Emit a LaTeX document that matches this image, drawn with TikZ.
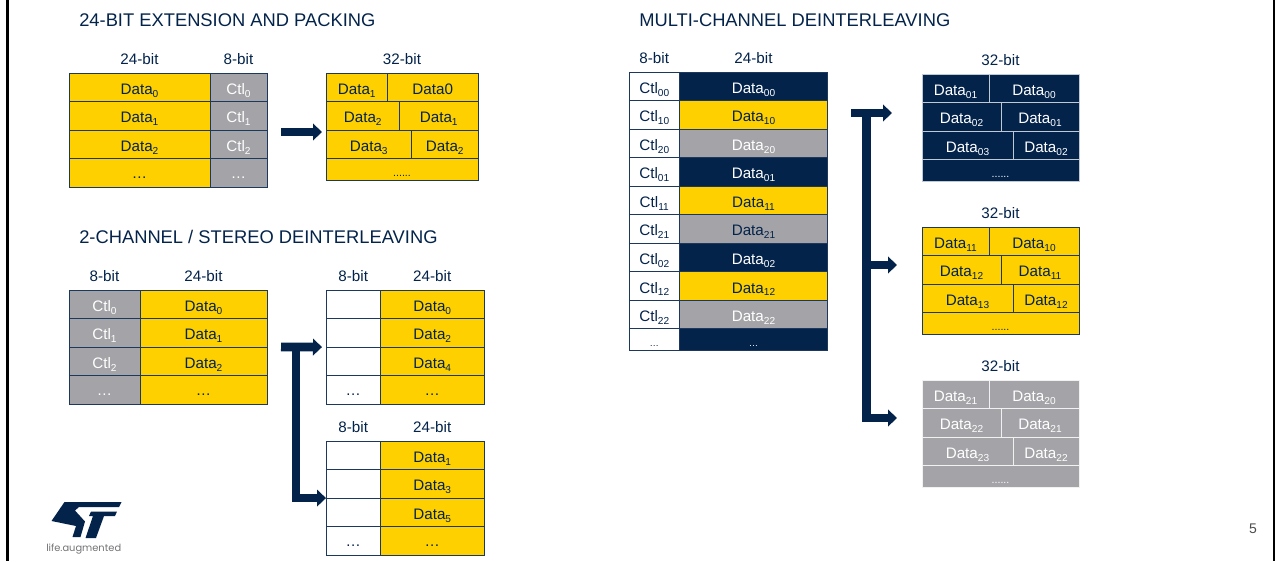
\documentclass[tikz,border=0pt]{standalone}
\usepackage{fontspec}
\setmainfont{Liberation Sans}
\newfontfamily\logofont{Poppins}
\usetikzlibrary{arrows.meta, positioning, calc}
\definecolor{stgold}{RGB}{255, 208, 0}
\definecolor{stnavy}{RGB}{3, 35, 75}
\definecolor{stgrey}{RGB}{164, 163, 167}
\definecolor{linecolor}{RGB}{28, 56, 92}
\tikzstyle{wide} = [minimum width=(#1)*0.75pt]
\tikzstyle{cell} = [draw=linecolor, rectangle, line width=0.75pt, outer sep=0pt, inner sep=0pt, minimum height=21.4pt, text height=10.5pt, text depth=0pt, text centered, font=\fontsize{11.4}{13}\selectfont]
\tikzstyle{goldcell} = [cell, fill=stgold, text=stnavy]
\tikzstyle{greycell} = [cell, fill=stgrey, text=white]
\tikzstyle{navycell} = [cell, fill=stnavy, text=white]
\tikzstyle{whitecell} = [cell, fill=white, text=stnavy]
\tikzstyle{navypack} = [navycell, draw=white!75!stnavy, line width=0.6pt]
\tikzstyle{greypack} = [greycell, draw=white!85!stgrey, line width=0.6pt]
\tikzstyle{head} = [inner sep=0pt, outer sep=0pt, text=stnavy, font=\fontsize{11.4}{13}\selectfont]
\tikzstyle{title} = [inner sep=0pt, anchor=base west, text=stnavy, font=\fontsize{13.75}{16}\selectfont]
\tikzstyle{arrow} = [line width=6.6pt, color=stnavy, -{Triangle[length=6.75pt, width=12.4pt]}]
\newcommand{\dat}[1]{Data\raisebox{-2.2pt}{\fontsize{7.6}{8}\selectfont #1}}
\newcommand{\ctl}[1]{Ctl\raisebox{-2.2pt}{\fontsize{7.6}{8}\selectfont #1}}
\newcommand{\rowdots}{\raisebox{1.4pt}{…}}
\newcommand{\packdots}{\fontsize{8}{9}\selectfont ......}
\newcommand{\packedtable}[7]{%
  \node (#1l1) [#3, wide=#5, anchor=north west] at (#2) {\dat{#61}};
  \node (#1r1) [#3, wide=#4-#5, right=0pt of #1l1] {#7};
  \node (#1l2) [#3, wide=#5+12, below right=0pt of #1l1.south west] {\dat{#62}};
  \node (#1r2) [#3, wide=#4-#5-12, right=0pt of #1l2] {\dat{#61}};
  \node (#1l3) [#3, wide=#5+24, below right=0pt of #1l2.south west] {\dat{#63}};
  \node (#1r3) [#3, wide=#4-#5-24, right=0pt of #1l3] {\dat{#62}};
  \node (#1end) [#3, wide=#4, minimum height=16.5pt, below right=0pt of #1l3.south west] {\packdots};
  \coordinate (#1top) at ($(#1l1.north west)!0.5!(#1r1.north east)$);
  \node (#1head) [head, above=6.6pt of #1top] {32-bit};
}

\begin{document}
\begin{tikzpicture}[x=0.75pt, y=-0.75pt]
\useasboundingbox (0,0) rectangle (1275,561);

% Slide frame and logo
\fill [black] (6,0) rectangle (9,561);
\fill [black] (1273,0) rectangle (1275,561);
\fill [stnavy] (64.5,502) -- (121.5,502) -- (119,507) -- (79,507) -- (75,510.5) -- (85,521.5) -- (80.5,537) -- (72.5,537) -- (76,526) -- (51.5,521) -- cycle;
\fill [stnavy] (91,511.5) -- (117,511.5) -- (115,516) -- (104,516) -- (96,538) -- (85.5,538) -- (93,516) -- (89,516) -- cycle;
\node (lifetext) [inner sep=0pt, anchor=base west, text=stgrey!70!black, font=\logofont\fontsize{7.4}{8}\selectfont] at (46,551) {life.augmented};

% Titles
\node (titlepack) [title] at (79,26) {24-BIT EXTENSION AND PACKING};
\node (titlestereo) [title] at (79,243) {2-CHANNEL / STEREO DEINTERLEAVING};
\node (titlemulti) [title] at (639,26) {MULTI-CHANNEL DEINTERLEAVING};
\node (pagenum) [inner sep=0pt, anchor=base, text=black!70, font=\fontsize{10.5}{12}\selectfont] at (1253,533) {5};

% 24-bit extension
\node (adata0) [goldcell, wide=141, anchor=north west] at (69,73) {\dat{0}};
\node (actl0) [greycell, wide=57, right=0pt of adata0] {\ctl{0}};
\foreach \i/\j in {1/0, 2/1} {
  \node (adata\i) [goldcell, wide=141, below=0pt of adata\j] {\dat{\i}};
  \node (actl\i) [greycell, wide=57, right=0pt of adata\i] {\ctl{\i}};
}
\node (adots) [goldcell, wide=141, below=0pt of adata2] {\rowdots};
\node (actldots) [greycell, wide=57, right=0pt of adots] {\rowdots};
\node (aheadl) [head, above=6.4pt of adata0] {24-bit};
\node (aheadr) [head, above=6.4pt of actl0] {8-bit};
\packedtable{pa}{326,73}{goldcell}{152}{61.5}{}{Data0}

% Stereo source
\node (bctl0) [greycell, wide=71, anchor=north west] at (69,290) {\ctl{0}};
\node (bdata0) [goldcell, wide=127, right=0pt of bctl0] {\dat{0}};
\foreach \i/\j in {1/0, 2/1} {
  \node (bctl\i) [greycell, wide=71, below=0pt of bctl\j] {\ctl{\i}};
  \node (bdata\i) [goldcell, wide=127, right=0pt of bctl\i] {\dat{\i}};
}
\node (bctldots) [greycell, wide=71, below=0pt of bctl2] {\rowdots};
\node (bdots) [goldcell, wide=127, right=0pt of bctldots] {\rowdots};
\node (bheadl) [head, above=6.6pt of bctl0] {8-bit};
\node (bheadr) [head, above=6.6pt of bdata0] {24-bit};

% Stereo channels
\foreach \t/\ty/\p/\q/\r in {first/290/0/2/4, second/441/1/3/5} {
  \node (\t c1) [whitecell, wide=54.5, anchor=north west] at (326,\ty) {};
  \node (\t d1) [goldcell, wide=103.5, right=0pt of \t c1] {\dat{\p}};
  \node (\t c2) [whitecell, wide=54.5, below=0pt of \t c1] {};
  \node (\t d2) [goldcell, wide=103.5, right=0pt of \t c2] {\dat{\q}};
  \node (\t c3) [whitecell, wide=54.5, below=0pt of \t c2] {};
  \node (\t d3) [goldcell, wide=103.5, right=0pt of \t c3] {\dat{\r}};
  \node (\t c4) [whitecell, wide=54.5, below=0pt of \t c3] {\rowdots};
  \node (\t d4) [goldcell, wide=103.5, right=0pt of \t c4] {\rowdots};
  \node (\t headl) [head, above=6.6pt of \t c1] {8-bit};
  \node (\t headr) [head, above=6.6pt of \t d1] {24-bit};
}

% Multi-channel source
\node (cctl00) [whitecell, wide=50.5, anchor=north west] at (629,72) {\ctl{00}};
\node (cdata00) [navycell, wide=148, right=0pt of cctl00] {\dat{00}};
\foreach \i/\j in {10/00, 20/10, 01/20, 11/01, 21/11, 02/21, 12/02, 22/12} {
  \node (cctl\i) [whitecell, wide=50.5, below=0pt of cctl\j] {\ctl{\i}};
}
\node (cdata10) [goldcell, wide=148, right=0pt of cctl10] {\dat{10}};
\node (cdata20) [greycell, wide=148, right=0pt of cctl20] {\dat{20}};
\node (cdata01) [navycell, wide=148, right=0pt of cctl01] {\dat{01}};
\node (cdata11) [goldcell, wide=148, right=0pt of cctl11] {\dat{11}};
\node (cdata21) [greycell, text=stnavy, wide=148, right=0pt of cctl21] {\dat{21}};
\node (cdata02) [navycell, wide=148, right=0pt of cctl02] {\dat{02}};
\node (cdata12) [goldcell, wide=148, right=0pt of cctl12] {\dat{12}};
\node (cdata22) [greycell, wide=148, right=0pt of cctl22] {\dat{22}};
\node (cctldots) [whitecell, wide=50.5, minimum height=16.5pt, below=0pt of cctl22, font=\fontsize{7}{8}\selectfont] {…};
\node (cdots) [navycell, wide=148, minimum height=16.5pt, right=0pt of cctldots, font=\fontsize{7}{8}\selectfont] {…};
\node (cheadl) [head, above=6pt of cctl00] {8-bit};
\node (cheadr) [head, above=6pt of cdata00] {24-bit};

% Multi-channel packed
\packedtable{pn}{922,74}{navypack}{157}{67}{0}{\dat{00}}
\packedtable{py}{922,227}{goldcell}{157}{67}{1}{\dat{10}}
\packedtable{pg}{922,380}{greypack}{157}{67}{2}{\dat{20}}

% Arrows
\coordinate (astart) at (281,132);
\draw [arrow, shorten >=3pt] (astart) -- (astart -| pal2.south west);

\coordinate (bstart) at (281,347);
\coordinate (bbranch) at (296,347);
\draw [arrow, shorten >=3pt] (bstart) -- (firstc2.south west);
\draw [arrow] (bbranch) |- (secondc2.south west);

\coordinate (cstart) at (851,113);
\coordinate (cbranch) at (866.5,113);
\coordinate (cend1) at (892,113);
\coordinate (cend2) at (897,265);
\coordinate (cend3) at (897,418);
\draw [arrow] (cstart) -- (cend1);
\draw [arrow] (cbranch) |- (cend2);
\draw [arrow] (cbranch) |- (cend3);

\end{tikzpicture}
\end{document}
